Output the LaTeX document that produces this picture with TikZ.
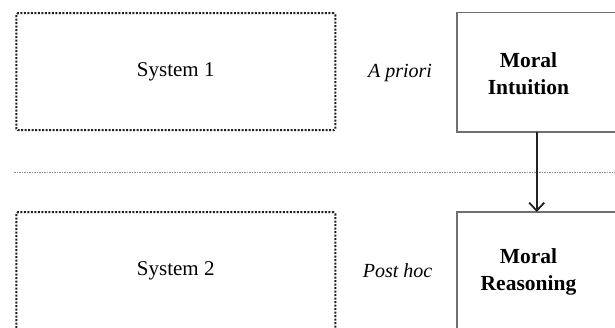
\documentclass[tikz,border=0pt]{standalone}
\usepackage{fontspec}
\setmainfont{Liberation Serif}
\usetikzlibrary{positioning,arrows.meta,calc}
\definecolor{SysDot}{HTML}{1E1E1E}
\definecolor{BoxGray}{HTML}{707070}
\definecolor{SepGray}{HTML}{8A8A8A}
\definecolor{ArrowInk}{HTML}{222222}
\tikzset{
  sysbox/.style={draw=SysDot, line width=2pt, dash pattern=on 2pt off 1.5pt,
                 rounded corners=1.5pt, inner sep=0pt, outer sep=0pt,
                 minimum width=319pt, minimum height=117pt,
                 font=\fontsize{21}{25}\selectfont},
  moralbox/.style={draw=BoxGray, line width=1.1pt, inner sep=0pt, outer sep=0pt,
                   anchor=north west, minimum width=175pt, minimum height=119.5pt},
  moraltxt/.style={align=center, inner sep=0pt, font=\fontsize{21.5}{27}\selectfont\bfseries},
  tag/.style={inner sep=0pt, font=\fontsize{20}{24}\selectfont\itshape},
  flow/.style={-{Straight Barb[length=8pt,width=15pt,line width=1.8pt]}, line width=1.8pt, ArrowInk},
  sep/.style={SepGray, line width=0.8pt, dash pattern=on 1.5pt off 1pt},
}
\begin{document}
\begin{tikzpicture}[x=1pt, y=1pt]
  \useasboundingbox (0,0) rectangle (615,328);
  \clip (0,0) rectangle (615,328);
  % dual-process rows
  \node[sysbox] (sys1) at (175.75,256.25) {System 1};
  \node[sysbox] (sys2) at (175.75,57.25) {System 2};
  \node[tag] (prio) at (400,255) {A priori};
  \node[tag] (post) at (397.5,57) {Post hoc};
  \node[moralbox] (intbox) at (457,315.5) {};
  \node[moralbox] (reabox) at (457,116) {};
  \node[moraltxt] (intu) at (528.5,254) {Moral\\Intuition};
  \node[moraltxt] (reas) at (528.5,56) {Moral\\Reasoning};
  \draw[sep] (14,156) -- (615,156);
  \draw[flow] ([xshift=79.7pt]intbox.south west) -- ([xshift=79.7pt]reabox.north west);
\end{tikzpicture}
\end{document}
